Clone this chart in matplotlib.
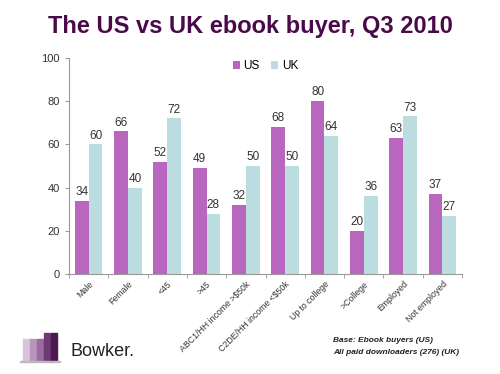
import matplotlib.pyplot as plt
import numpy as np
from matplotlib.patches import Rectangle

categories = ["Male", "Female", "<45", ">45", "ABC1/HH income >$50k",
              "C2DE/HH income <$50k", "Up to college", ">College",
              "Employed", "Not employed"]
us = [34, 66, 52, 49, 32, 68, 80, 20, 63, 37]
uk = [60, 40, 72, 28, 50, 50, 64, 36, 73, 27]
yticks = [0, 20, 40, 60, 80, 100]

plt.rcParams['font.family'] = ['Liberation Sans', 'DejaVu Sans']

fig = plt.figure(figsize=(5, 3.74), dpi=100)
ax = fig.add_axes([69/500, 1-274/374, (462-69)/500, (274-58)/374])

x = np.arange(len(categories))
w = 0.35
b1 = ax.bar(x - w/2, us, w, color='#B966BE', label='US')
b2 = ax.bar(x + w/2, uk, w, color='#BCDDE0', label='UK')
for bars in (b1, b2):
    ax.bar_label(bars, padding=2, fontsize=8.5, color='#333333')

ax.set_xlim(-0.5, len(categories) - 0.5)
ax.set_ylim(0, 100)
ax.set_yticks(yticks)
ax.tick_params(axis='y', labelsize=8, colors='#333333', length=3, color='#999999')
ax.set_xticks(x)
ax.set_xticklabels(categories, rotation=45, ha='right', rotation_mode='anchor',
                   fontsize=6.3, color='#333333')
ax.tick_params(axis='x', length=0, pad=4)
ax.set_xticks(np.arange(-0.5, len(categories)), minor=True)
ax.tick_params(axis='x', which='minor', length=3, color='#999999')
for s in ['top', 'right']:
    ax.spines[s].set_visible(False)
for s in ['left', 'bottom']:
    ax.spines[s].set_color('#999999')
    ax.spines[s].set_linewidth(0.8)

ax.legend(loc='upper center', bbox_to_anchor=(0.5, 1.04), ncol=2, frameon=False,
          fontsize=8.5, handlelength=0.6, handleheight=0.6, handletextpad=0.3,
          columnspacing=1.0)

fig.text(0.5, 1-27/374, "The US vs UK ebook buyer, Q3 2010", ha='center', va='center',
         fontsize=17, fontweight='bold', color='#4A0A4A')

# footer
fig.text(333/500, 1-340/374, "Base: Ebook buyers (US)", fontsize=6,
         fontweight='bold', style='italic', color='#222222', va='center')
fig.text(333/500, 1-352/374, "All paid downloaders (276) (UK)", fontsize=6,
         fontweight='bold', style='italic', color='#222222', va='center')

# logo
logo_cols = ['#D9C3DA', '#B994BC', '#9B6A9E', '#6E3A73', '#4A1A50']
logo_h = [22, 22, 22, 28, 28]
for i, (c, h) in enumerate(zip(logo_cols, logo_h)):
    fig.patches.append(Rectangle(((23 + i*7)/500, 1-361/374), 6/500, h/374,
                                 transform=fig.transFigure, color=c))
fig.patches.append(Rectangle((20/500, 1-362/374), 40/500, 1/374,
                             transform=fig.transFigure, color='#BBBBBB'))
fig.text(32/500, 1-334/374, "BML", fontsize=4, color='white', va='center')
fig.text(70/500, 1-352/374, "Bowker.", fontsize=13, color='#222222', va='center')

fig.savefig('out.png', dpi=100)
